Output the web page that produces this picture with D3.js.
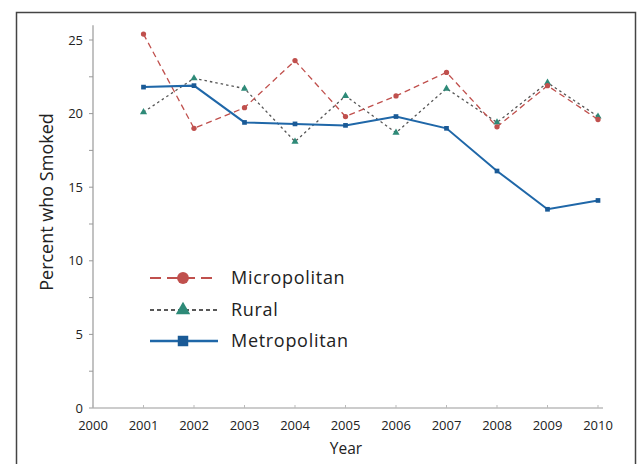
<!DOCTYPE html>
<html><head><meta charset="utf-8">
<script src="https://cdn.jsdelivr.net/npm/d3@7"></script>
<style>body{margin:0;background:#fff;font-family:"Open Sans",Lato,sans-serif;}</style>
</head><body>
<svg id="c" width="639" height="464"></svg>
<script>
const years = [2001,2002,2003,2004,2005,2006,2007,2008,2009,2010];
const xTickLabels = [2000,2001,2002,2003,2004,2005,2006,2007,2008,2009,2010];
const yTickLabels = [0,5,10,15,20,25];
const micropolitan = [25.4,19.0,20.4,23.6,19.8,21.2,22.8,19.1,21.9,19.6];
const rural = [20.1,22.4,21.7,18.1,21.2,18.7,21.7,19.4,22.1,19.8];
const metropolitan = [21.8,21.9,19.4,19.3,19.2,19.8,19.0,16.1,13.5,14.1];
const seriesNames = ["Micropolitan","Rural","Metropolitan"];

const svg = d3.select("#c").style("font-family","'Open Sans',Lato,sans-serif");
// frame
svg.append("rect").attr("x",16.5).attr("y",12.5).attr("width",619).attr("height",460)
  .attr("fill","none").attr("stroke","#444").attr("stroke-width",1.5);

const x = d3.scaleLinear().domain([2000,2010]).range([93,598]);
const y = d3.scaleLinear().domain([0,25]).range([408,40]);

// y axis
const ya = svg.append("g").attr("transform","translate(93,0)");
ya.append("line").attr("y1",y(0)).attr("y2",y(26)).attr("stroke","#999").attr("stroke-width",1.2);
ya.selectAll(".mt").data(d3.range(0,26,2.5)).join("line")
  .attr("x1",-4).attr("x2",0).attr("y1",d=>y(d)).attr("y2",d=>y(d)).attr("stroke","#999");
ya.selectAll("text").data(yTickLabels).join("text")
  .attr("x",-10).attr("y",d=>y(d)).attr("dy","0.35em").attr("text-anchor","end")
  .attr("font-size",13).attr("fill","#222").text(d=>d);

// x axis
const xa = svg.append("g");
xa.append("line").attr("x1",x(2000)).attr("x2",x(2010)+5).attr("y1",y(0)).attr("y2",y(0)).attr("stroke","#999").attr("stroke-width",1.2);
xa.selectAll(".xt").data(xTickLabels).join("line")
  .attr("x1",d=>x(d)).attr("x2",d=>x(d)).attr("y1",y(0)).attr("y2",y(0)-3).attr("stroke","#bbb");
xa.selectAll("text").data(xTickLabels).join("text")
  .attr("x",d=>x(d)).attr("y",425).attr("dy","0.35em").attr("text-anchor","middle")
  .attr("font-size",13).attr("fill","#222").text(d=>d);

svg.append("text").attr("x",346).attr("y",449).attr("dy","0.35em").attr("text-anchor","middle")
  .attr("font-size",15.5).attr("fill","#222").text("Year");
svg.append("text").attr("transform","translate(47,202) rotate(-90)").attr("dy","0.35em")
  .attr("text-anchor","middle").attr("font-size",18).attr("fill","#222").text("Percent who Smoked");

const line = d3.line().x((d,i)=>x(years[i])).y(d=>y(d));
const styles = [
  {data:micropolitan, stroke:"#c0504d", dash:"6,4", width:1.3, mcolor:"#c0504d", shape:d3.symbolCircle},
  {data:rural, stroke:"#555", dash:"2.5,3", width:1.3, mcolor:"#2e8a78", shape:d3.symbolTriangle},
  {data:metropolitan, stroke:"#1f67a8", dash:null, width:2, mcolor:"#1a5a96", shape:d3.symbolSquare}
];
const sym = d3.symbol();
[1,0,2].forEach(k=>{
  const s = styles[k];
  svg.append("path").datum(s.data).attr("d",line).attr("fill","none")
    .attr("stroke",s.stroke).attr("stroke-width",s.width).attr("stroke-dasharray",s.dash);
  svg.append("g").selectAll("path").data(s.data).join("path")
    .attr("transform",(d,i)=>`translate(${x(years[i])},${y(d)})`)
    .attr("d",sym.type(s.shape).size(22)).attr("fill",s.mcolor);
});

// legend
const leg = svg.append("g");
const rows = [278,310,341];
styles.forEach((s,i)=>{
  const g = leg.append("g").attr("transform",`translate(0,${rows[i]})`);
  g.append("line").attr("x1",150).attr("x2",218).attr("y1",0).attr("y2",0)
    .attr("stroke", i===1?"#222":s.stroke).attr("stroke-width",i===2?2.5:(i===1?1.3:2))
    .attr("stroke-dasharray", i===0?"11,6":(i===1?"4,3":null));
  g.append("path").attr("transform","translate(183,0)")
    .attr("d",sym.type(s.shape).size(i===1?90:110)).attr("fill",s.mcolor);
  g.append("text").attr("x",231).attr("y",0).attr("dy","0.35em")
    .attr("font-size",18).attr("letter-spacing",0.7).attr("fill","#222").text(seriesNames[i]);
});
</script>
</body></html>
